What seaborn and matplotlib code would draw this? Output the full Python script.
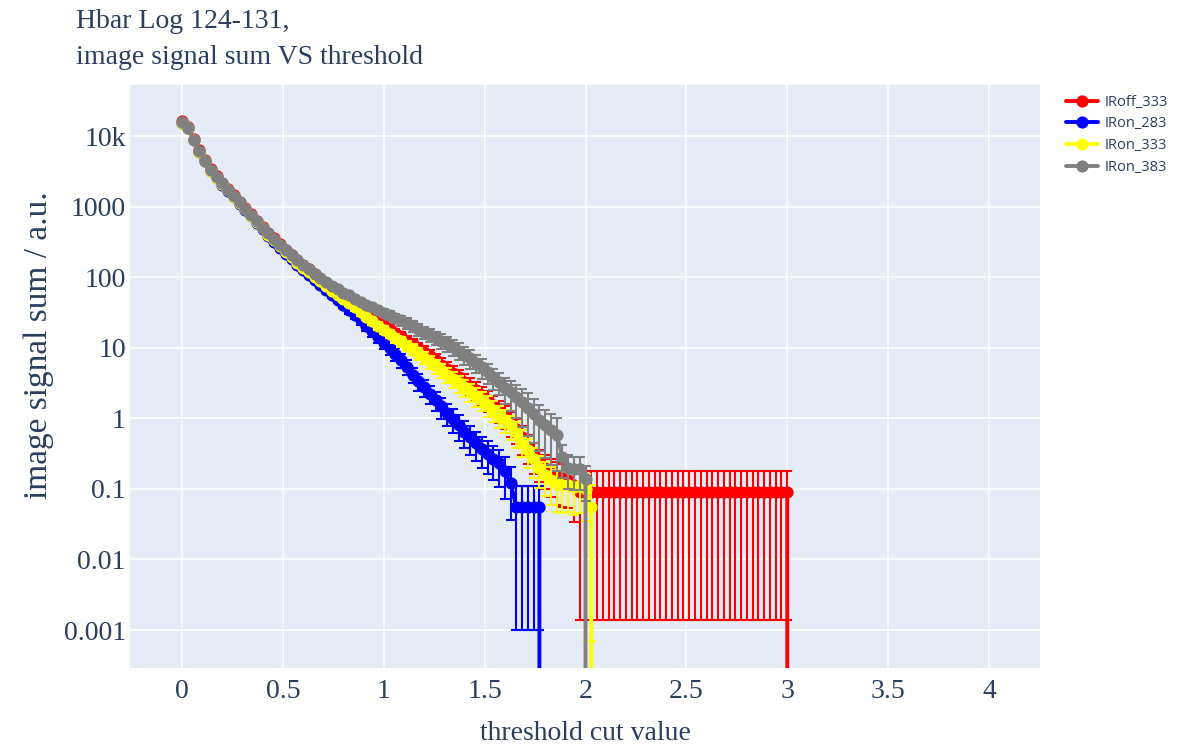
import numpy as np
import matplotlib
matplotlib.use("Agg")
import matplotlib.pyplot as plt
from matplotlib.ticker import FixedLocator, FixedFormatter, NullLocator
import seaborn as sns

# ---------------- data ----------------
thresholds = np.arange(107) / 35.0

series_names = ["IRoff_333", "IRon_283", "IRon_333", "IRon_383"]
series_colors = ["red", "blue", "yellow", "gray"]

iroff_333 = [16200, 13500, 9120, 6310, 4570, 3390, 2690, 2190, 1780, 1450,
             1170, 955, 776, 631, 513, 427, 355, 295, 245, 204,
             174, 148, 129, 110, 95.5, 83.2, 72.4, 63.1, 55.0, 47.9,
             41.7, 36.3, 31.6, 27.5, 24.0, 20.9, 18.6, 16.2, 14.5, 12.6,
             11.2, 9.77, 8.71, 7.59, 6.61, 5.75, 5.01, 4.37, 3.80, 3.31,
             2.88, 2.51, 2.14, 1.82, 1.55, 1.32, 1.10, 0.891, 0.708, 0.537,
             0.398, 0.302, 0.240, 0.200, 0.170, 0.151, 0.141, 0.135, 0.112,
             0.0916, 0.0916, 0.0916, 0.0916, 0.0916, 0.0916, 0.0916, 0.0916, 0.0916, 0.0916,
             0.0916, 0.0916, 0.0916, 0.0916, 0.0916, 0.0916, 0.0916, 0.0916, 0.0916, 0.0916,
             0.0916, 0.0916, 0.0916, 0.0916, 0.0916, 0.0916, 0.0916, 0.0916, 0.0916, 0.0916,
             0.0916, 0.0916, 0.0916, 0.0916, 0.0916, 0.0916, 0.0916, 0]
iroff_333_err = [162, 135, 91, 63, 46, 34, 27, 22, 18, 14.5,
                 11.7, 9.6, 7.8, 6.3, 5.1, 8.5, 7.1, 8.9, 7.4, 7.1,
                 7.0, 7.4, 7.1, 6.6, 6.2, 5.8, 5.4, 5.0, 5.0, 4.6,
                 4.2, 3.8, 3.5, 3.2, 2.9, 2.7, 2.6, 2.4, 2.3, 2.1,
                 2.0, 1.9, 1.75, 1.6, 1.45, 1.3, 1.2, 1.1, 1.03, 0.93,
                 0.84, 0.75, 0.66, 0.58, 0.51, 0.45, 0.40, 0.34, 0.28, 0.23,
                 0.175, 0.139, 0.115, 0.10, 0.094, 0.091, 0.085, 0.081, 0.078,
                 0.0902, 0.0902, 0.0902, 0.0902, 0.0902, 0.0902, 0.0902, 0.0902, 0.0902, 0.0902,
                 0.0902, 0.0902, 0.0902, 0.0902, 0.0902, 0.0902, 0.0902, 0.0902, 0.0902, 0.0902,
                 0.0902, 0.0902, 0.0902, 0.0902, 0.0902, 0.0902, 0.0902, 0.0902, 0.0902, 0.0902,
                 0.0902, 0.0902, 0.0902, 0.0902, 0.0902, 0.0902, 0.0902, 0]

iron_283 = [15500, 12900, 8710, 6030, 4370, 3240, 2510, 2040, 1660, 1350,
            1100, 891, 724, 589, 479, 389, 316, 257, 214, 178,
            148, 126, 107, 91.2, 77.6, 66.1, 56.2, 47.9, 40.7, 34.7,
            29.5, 24.5, 20.4, 17.0, 14.1, 11.7, 9.77, 8.13, 6.61, 5.37,
            4.17, 3.39, 2.75, 2.24, 1.82, 1.48, 1.20, 0.977, 0.794, 0.646,
            0.537, 0.447, 0.372, 0.316, 0.269, 0.229, 0.178, 0.120, 0.0562, 0.0562,
            0.0562, 0.0562, 0.0562, 0]
iron_283_err = [155, 129, 87, 60, 44, 32, 25, 20, 17, 13.5,
                11, 8.9, 7.2, 5.9, 4.8, 7.8, 7.9, 7.7, 7.5, 7.1,
                6.7, 6.9, 6.4, 6.4, 5.8, 5.3, 5.1, 4.8, 4.5, 4.2,
                3.8, 3.4, 3.1, 2.7, 2.4, 2.1, 1.95, 1.7, 1.45, 1.3,
                1.04, 0.92, 0.77, 0.67, 0.56, 0.49, 0.42, 0.36, 0.31, 0.265,
                0.23, 0.20, 0.175, 0.155, 0.137, 0.121, 0.107, 0.084, 0.0552, 0.0552,
                0.0552, 0.0552, 0.0552, 0]

iron_333 = [15500, 12900, 8710, 6030, 4370, 3240, 2570, 2090, 1700, 1380,
            1120, 912, 741, 603, 490, 398, 331, 275, 229, 191,
            158, 135, 117, 100, 87.1, 75.9, 64.6, 56.2, 49.0, 42.7,
            37.2, 31.6, 27.5, 24.0, 20.4, 17.8, 15.8, 13.8, 12.3, 10.7,
            9.55, 8.32, 7.24, 6.31, 5.50, 4.79, 4.17, 3.63, 3.16, 2.75,
            2.40, 2.09, 1.82, 1.55, 1.32, 1.12, 0.955, 0.794, 0.631, 0.479,
            0.355, 0.263, 0.200, 0.158, 0.132, 0.117, 0.112, 0.112, 0.107, 0.112,
            0.100, 0.0562, 0]
iron_333_err = [155, 129, 87, 60, 44, 32, 26, 21, 17, 14,
                11, 9.1, 7.4, 6.0, 4.9, 8.0, 6.6, 8.3, 6.9, 6.7,
                6.3, 6.8, 6.4, 6.0, 5.7, 5.3, 4.8, 4.5, 4.4, 4.1,
                3.7, 3.3, 3.0, 2.8, 2.4, 2.3, 2.2, 2.1, 2.0, 1.8,
                1.7, 1.6, 1.45, 1.3, 1.2, 1.1, 1.0, 0.91, 0.85, 0.77,
                0.70, 0.63, 0.56, 0.50, 0.44, 0.38, 0.34, 0.30, 0.25, 0.20,
                0.156, 0.121, 0.096, 0.079, 0.073, 0.070, 0.067, 0.065, 0.064, 0.067,
                0.065, 0.0555, 0]

iron_383 = [15800, 13200, 8910, 6170, 4470, 3310, 2630, 2140, 1740, 1410,
            1150, 933, 759, 617, 501, 417, 347, 288, 240, 204,
            174, 148, 129, 112, 97.7, 85.1, 75.9, 67.6, 60.3, 55.0,
            49.0, 44.7, 40.7, 37.2, 33.9, 30.9, 28.8, 26.3, 24.5, 22.4,
            20.4, 18.2, 16.6, 15.1, 13.8, 12.6, 11.5, 10.2, 9.12, 7.94,
            7.08, 6.17, 5.25, 4.47, 3.80, 3.24, 2.69, 2.34, 2.00, 1.70,
            1.41, 1.15, 0.955, 0.794, 0.676, 0.589, 0.282, 0.200, 0.191, 0.191,
            0.138, 0]
iron_383_err = [158, 132, 89, 62, 45, 33, 26, 21, 17, 14,
                11.5, 9.3, 7.6, 6.2, 5.0, 8.3, 6.9, 8.6, 7.2, 7.1,
                7.0, 7.4, 7.1, 6.7, 6.4, 6.0, 5.7, 5.4, 5.4, 5.2,
                4.9, 4.7, 4.5, 4.3, 4.1, 4.0, 4.0, 3.9, 3.9, 3.8,
                3.7, 3.5, 3.3, 3.2, 3.0, 2.9, 2.8, 2.6, 2.5, 2.2,
                2.1, 1.85, 1.6, 1.4, 1.25, 1.1, 1.08, 1.05, 1.0, 0.94,
                0.85, 0.71, 0.61, 0.52, 0.46, 0.41, 0.14, 0.10, 0.095, 0.095,
                0.07, 0]

series_values = [iroff_333, iron_283, iron_333, iron_383]
series_errors = [iroff_333_err, iron_283_err, iron_333_err, iron_383_err]

x_ticks = [0, 0.5, 1, 1.5, 2, 2.5, 3, 3.5, 4]
x_tick_labels = ["0", "0.5", "1", "1.5", "2", "2.5", "3", "3.5", "4"]
y_ticks = [10000, 1000, 100, 10, 1, 0.1, 0.01, 0.001]
y_tick_labels = ["10k", "1000", "100", "10", "1", "0.1", "0.01", "0.001"]

title_lines = ["Hbar Log 124-131,", "image signal sum VS threshold"]
x_title = "threshold cut value"
y_title = "image signal sum / a.u."

# ---------------- style ----------------
sns.set_style("darkgrid", {"axes.facecolor": "#E5ECF6", "grid.color": "white"})
plt.rcParams["font.family"] = ["Liberation Serif", "DejaVu Serif"]
TXT = "#2a3f5f"

W, H = 1198, 746
fig = plt.figure(figsize=(W / 100, H / 100), dpi=100)
L, R, T, B = 130, 1040, 85, 668
ax = fig.add_axes([L / W, 1 - B / H, (R - L) / W, (B - T) / H])
ax.set_facecolor("#E5ECF6")
ax.set_yscale("log")

for i, (name, col, vals, errs) in enumerate(zip(series_names, series_colors,
                                                 series_values, series_errors)):
    xs = thresholds[:len(vals)]
    v = np.asarray(vals, dtype=float)
    e = np.asarray(errs, dtype=float)
    pos = v > 0
    ax.errorbar(xs[pos], v[pos], yerr=e[pos], fmt="none", ecolor=col,
                elinewidth=1.5, capsize=3.6, capthick=1.5, zorder=3 + 2 * i)
    sns.lineplot(x=xs, y=v, ax=ax, color=col, linewidth=2.8, marker="o",
                 markersize=8.8, markeredgewidth=0, label=name,
                 estimator=None, errorbar=None, sort=False, zorder=4 + 2 * i)

ax.set_xlim(-52 / 201.75, 858 / 201.75)
ax.set_ylim(10 ** (-3.538), 10 ** 4.723)
ax.xaxis.set_major_locator(FixedLocator(x_ticks))
ax.xaxis.set_major_formatter(FixedFormatter(x_tick_labels))
ax.yaxis.set_major_locator(FixedLocator(y_ticks))
ax.yaxis.set_major_formatter(FixedFormatter(y_tick_labels))
ax.yaxis.set_minor_locator(NullLocator())
ax.grid(True, color="white", linewidth=1.1)
ax.set_axisbelow(True)
for s in ax.spines.values():
    s.set_visible(False)
ax.tick_params(axis="both", length=0, labelsize=20, labelcolor=TXT)
ax.tick_params(axis="x", pad=8)
ax.tick_params(axis="y", pad=3)
ax.set_xlabel("")
ax.set_ylabel("")

fig.text((L + R) / 2 / W, 1 - 740 / H, x_title, ha="center", va="baseline",
         fontsize=20, color=TXT)
fig.text(39 / W, 1 - 345 / H, y_title, ha="center", va="center",
         rotation=90, fontsize=24, color=TXT)
fig.text(76 / W, 1 - 28 / H, title_lines[0], ha="left", va="baseline",
         fontsize=20, color=TXT)
fig.text(76 / W, 1 - 64 / H, title_lines[1], ha="left", va="baseline",
         fontsize=20, color=TXT)

leg = ax.legend(loc="upper left", bbox_to_anchor=(1063 / W, 1 - 92 / H),
                bbox_transform=fig.transFigure, frameon=False,
                prop={"family": "Open Sans", "size": 10.5},
                handlelength=2.2, handletextpad=0.45, labelspacing=0.45,
                borderpad=0.2, borderaxespad=0)
for t in leg.get_texts():
    t.set_color(TXT)

fig.savefig("out.png", dpi=100)
